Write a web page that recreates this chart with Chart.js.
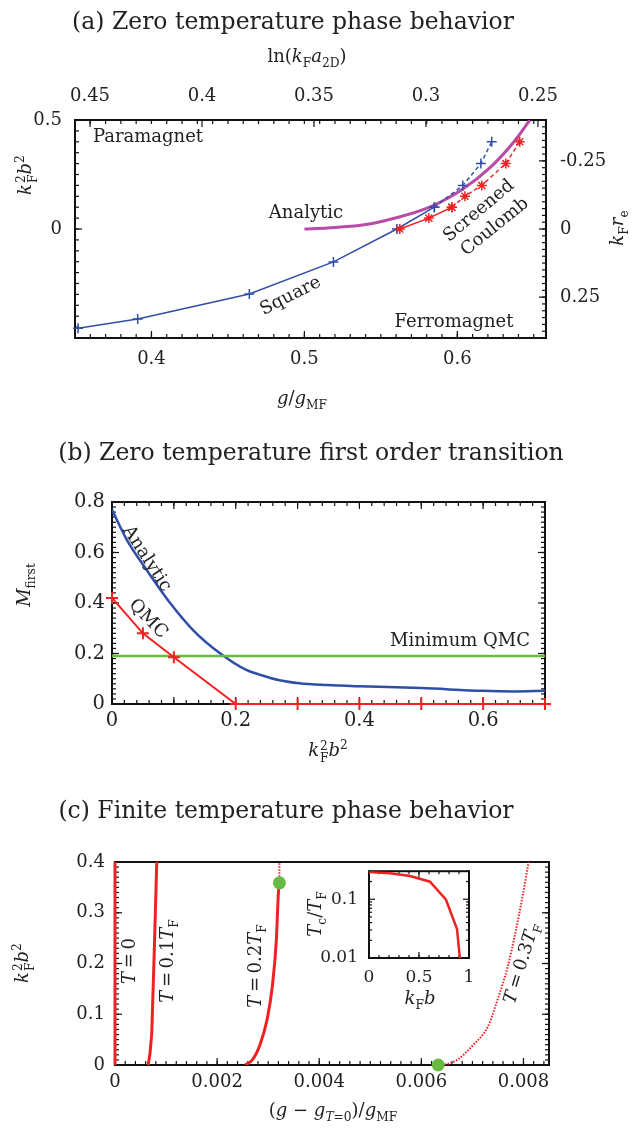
<!DOCTYPE html>
<html lang="en">
<head>
<meta charset="UTF-8">
<title>Phase behavior</title>
<script src="https://cdn.jsdelivr.net/npm/chart.js"></script>
<style>
  body { margin: 0; background: #fff; }
  #page { position: relative; width: 638px; height: 1129px; overflow: hidden; }
  canvas { position: absolute; }
  .t { position: absolute; font-family: 'DejaVu Serif', serif; color: #222; white-space: nowrap;
       transform: translate(-50%, -50%); font-size: 18px; line-height: 1; }
  .title { font-size: 23.5px; }
  sub, sup { font-size: 0.68em; line-height: 0; }
  .st { display: inline-flex; flex-direction: column; font-size: 0.68em; line-height: 1; vertical-align: 0.5em; margin-left: 1px; }
</style>
</head>
<body>
<div id="page">
  <canvas id="chartA" width="638" height="420" style="left:0;top:0"></canvas>
  <canvas id="chartB" width="638" height="360" style="left:0;top:420px"></canvas>
  <canvas id="chartC" width="638" height="349" style="left:0;top:780px"></canvas>
  <canvas id="inset" width="200" height="160" style="left:300px;top:850px"></canvas>

  <!-- (a) -->
  <div class="t title" style="left:293px;top:22px">(a) Zero temperature phase behavior</div>
  <div class="t" style="left:307px;top:56px">ln(<i>k</i><sub>F</sub><i>a</i><sub>2D</sub>)</div>
  <div class="t" style="left:27px;top:175px;transform:translate(-50%,-50%) rotate(-90deg)"><i>k</i><span class="st"><span>2</span><span>F</span></span><i>b</i><sup>2</sup></div>
  <div class="t" style="left:302px;top:398px"><i>g</i>/<i>g</i><sub>MF</sub></div>
  <div class="t" style="left:617px;top:228px;transform:translate(-50%,-50%) rotate(-90deg)"><i>k</i><sub>F</sub><i>r</i><sub>e</sub></div>
  <div class="t" style="left:148px;top:136px">Paramagnet</div>
  <div class="t" style="left:306px;top:212px">Analytic</div>
  <div class="t" style="left:290px;top:295px;transform:translate(-50%,-50%) rotate(-27deg)">Square</div>
  <div class="t" style="left:478px;top:210px;transform:translate(-50%,-50%) rotate(-40deg)">Screened</div>
  <div class="t" style="left:494px;top:226px;transform:translate(-50%,-50%) rotate(-39deg)">Coulomb</div>
  <div class="t" style="left:454px;top:321px">Ferromagnet</div>

  <!-- (b) -->
  <div class="t title" style="left:311px;top:453px">(b) Zero temperature first order transition</div>
  <div class="t" style="left:24px;top:585px;transform:translate(-50%,-50%) rotate(-90deg)"><i>M</i><sub>first</sub></div>
  <div class="t" style="left:328px;top:752px"><i>k</i><span class="st"><span>2</span><span>F</span></span><i>b</i><sup>2</sup></div>
  <div class="t" style="left:148px;top:558px;transform:translate(-50%,-50%) rotate(57deg)">Analytic</div>
  <div class="t" style="left:149px;top:618px;transform:translate(-50%,-50%) rotate(46deg)">QMC</div>
  <div class="t" style="left:460px;top:640px">Minimum QMC</div>

  <!-- (c) -->
  <div class="t title" style="left:286px;top:811px">(c) Finite temperature phase behavior</div>
  <div class="t" style="left:24px;top:963px;transform:translate(-50%,-50%) rotate(-90deg)"><i>k</i><span class="st"><span>2</span><span>F</span></span><i>b</i><sup>2</sup></div>
  <div class="t" style="left:333px;top:1110px">(<i>g</i> &#8722; <i>g</i><sub><i>T</i>=0</sub>)/<i>g</i><sub>MF</sub></div>
  <div class="t" style="left:129px;top:961px;transform:translate(-50%,-50%) rotate(-90deg)"><i>T</i>&#8201;=&#8201;0</div>
  <div class="t" style="left:167px;top:961px;transform:translate(-50%,-50%) rotate(-90deg)"><i>T</i>&#8201;=&#8201;0.1<i>T</i><sub>F</sub></div>
  <div class="t" style="left:255px;top:966px;transform:translate(-50%,-50%) rotate(-90deg)"><i>T</i>&#8201;=&#8201;0.2<i>T</i><sub>F</sub></div>
  <div class="t" style="left:521px;top:963px;transform:translate(-50%,-50%) rotate(-73deg)"><i>T</i>&#8201;=&#8201;0.3<i>T</i><sub>F</sub></div>
  <div class="t" style="left:315px;top:914px;transform:translate(-50%,-50%) rotate(-90deg)"><i>T</i><sub>c</sub>/<i>T</i><sub>F</sub></div>
  <div class="t" style="left:420px;top:998px"><i>k</i><sub>F</sub><i>b</i></div>
</div>

<script>
  // (a) zero temperature phase boundary: g/g_MF vs kF^2 b^2
  const squareG = [0.352, 0.391, 0.464, 0.519, 0.5605, 0.585];
  const squareB2 = [-0.455, -0.413, -0.298, -0.151, 0, 0.1];
  const squareDashG = [0.585, 0.6036, 0.6154, 0.6225];
  const squareDashB2 = [0.1, 0.2, 0.3, 0.4];
  const coulombG = [0.5624, 0.5814, 0.5964];
  const coulombB2 = [0, 0.05, 0.1];
  const coulombDashG = [0.5964, 0.605, 0.616, 0.6317, 0.6408];
  const coulombDashB2 = [0.1, 0.15, 0.2, 0.3, 0.4];
  const analyticG = [0.5, 0.515, 0.538, 0.557, 0.582, 0.6036, 0.6212, 0.6376, 0.6474];
  const analyticB2 = [0, 0.005, 0.018, 0.046, 0.1, 0.183, 0.28, 0.405, 0.5];
  const gTicks = [0.4, 0.5, 0.6];
  const lnTicks = [0.45, 0.4, 0.35, 0.3, 0.25];
  const b2TicksA = [0, 0.5];
  const reTicks = [-0.25, 0, 0.25];

  // (b) magnetisation at the first order transition
  const b2Analytic = [0, 0.024, 0.056, 0.094, 0.131, 0.174, 0.217, 0.239, 0.271, 0.303, 0.347, 0.4, 0.5, 0.6, 0.65, 0.7];
  const mAnalytic = [0.77, 0.65, 0.531, 0.40, 0.293, 0.202, 0.135, 0.116, 0.094, 0.082, 0.075, 0.07, 0.063, 0.052, 0.05, 0.052];
  const b2Qmc = [0, 0.05, 0.1, 0.2, 0.3, 0.4, 0.5, 0.6, 0.7];
  const mQmc = [0.42, 0.28, 0.185, 0, 0, 0, 0, 0, 0];
  const b2MinQmc = [0, 0.7];
  const mMinQmc = [0.19, 0.19];
  const b2TicksB = [0, 0.2, 0.4, 0.6];
  const mTicks = [0, 0.2, 0.4, 0.6, 0.8];

  // (c) finite temperature boundaries
  const dgT0 = [0, 0];
  const b2T0 = [0, 0.4];
  const dgT01 = [0.00065, 0.000686, 0.00072, 0.00074, 0.00077, 0.000818];
  const b2T01 = [0, 0.023, 0.062, 0.128, 0.227, 0.4];
  const dgT02 = [0.00255, 0.00269, 0.00284, 0.00298, 0.00308, 0.00316, 0.0032, 0.00322];
  const b2T02 = [0, 0.01, 0.04, 0.09, 0.154, 0.246, 0.339, 0.359];
  const dgT02Dot = [0.00322, 0.00322];
  const b2T02Dot = [0.359, 0.4];
  const dgT03Dot = [0.0064, 0.00647, 0.0067, 0.00702, 0.0073, 0.00749, 0.00769, 0.00784, 0.00798, 0.0081];
  const b2T03Dot = [0, 0.001, 0.01, 0.04, 0.075, 0.128, 0.193, 0.26, 0.331, 0.4];
  const dgCrit = [0.00322, 0.00633];
  const b2Crit = [0.359, 0];
  const dgTicks = [0, 0.002, 0.004, 0.006, 0.008];
  const b2TicksC = [0, 0.1, 0.2, 0.3, 0.4];

  // inset: Tc/TF vs kF b
  const kbInset = [0, 0.21, 0.41, 0.61, 0.77, 0.88, 0.91];
  const tcInset = [0.29, 0.278, 0.249, 0.199, 0.098, 0.031, 0.0095];
  const kbTicks = [0, 0.5, 1];
  const tcTicks = [0.01, 0.1];

  const BLUE = '#2f4ea6', RED = '#ee2222', MAGENTA = '#b64ca6', GREEN = '#68bb42', INK = '#222';

  Chart.defaults.font.family = "'DejaVu Serif', serif";
  Chart.defaults.color = INK;

  function pts(xs, ys) { return xs.map((x, i) => ({ x, y: ys[i] })); }
  function range(a, b, step) {
    const out = [];
    for (let v = a; v <= b + step * 1e-6; v += step) out.push(+v.toFixed(7));
    return out;
  }

  // box frame with inward ticks, drawn under the data
  const frameTicks = {
    id: 'frameTicks',
    beforeDatasetsDraw(chart, args, o) {
      const { ctx, chartArea: a } = chart;
      ctx.save();
      if (o.fill) { ctx.fillStyle = o.fill; ctx.fillRect(a.left, a.top, a.width, a.height); }
      ctx.strokeStyle = '#111';
      ctx.lineWidth = 1.2;
      for (const t of (o.marks || [])) {
        const s = chart.scales[t.scale];
        for (const v of t.values) {
          const p = s.getPixelForValue(v);
          ctx.beginPath();
          if (t.edge === 'bottom') { ctx.moveTo(p, a.bottom); ctx.lineTo(p, a.bottom - t.len); }
          else if (t.edge === 'top') { ctx.moveTo(p, a.top); ctx.lineTo(p, a.top + t.len); }
          else if (t.edge === 'left') { ctx.moveTo(a.left, p); ctx.lineTo(a.left + t.len, p); }
          else { ctx.moveTo(a.right, p); ctx.lineTo(a.right - t.len, p); }
          ctx.stroke();
        }
      }
      ctx.lineWidth = 2;
      ctx.strokeRect(a.left, a.top, a.width, a.height);
      ctx.restore();
    }
  };
  Chart.register(frameTicks);

  function axis(o) {
    return {
      type: o.type || 'linear', position: o.position, min: o.min, max: o.max, reverse: !!o.reverse,
      grid: { display: false, drawTicks: false }, border: { display: false },
      ticks: { padding: o.pad, font: { size: o.font }, color: INK, autoSkip: false, maxRotation: 0,
               callback: v => String(v) },
      afterBuildTicks: s => { s.ticks = o.ticks.map(value => ({ value })); },
      afterFit: s => { if (o.height != null) s.height = o.height; if (o.width != null) s.width = o.width; }
    };
  }

  function base(padding, marks, scales, fill) {
    return {
      responsive: false, animation: false, devicePixelRatio: 1,
      layout: { padding },
      plugins: { legend: { display: false }, tooltip: { enabled: false }, frameTicks: { marks, fill } },
      scales
    };
  }

  function line(xs, ys, color, width, extra) {
    return Object.assign({ data: pts(xs, ys), showLine: true, borderColor: color, backgroundColor: color,
                           borderWidth: width, pointRadius: 0 }, extra || {});
  }

  const cross = { pointStyle: 'cross', pointRadius: 5, pointBorderWidth: 1.5, clip: false };
  const star = { pointStyle: 'star', pointRadius: 5, pointBorderWidth: 1.5, clip: false };

  // ---- (a)
  new Chart(document.getElementById('chartA'), {
    type: 'scatter',
    data: { datasets: [
      line(coulombG, coulombB2, RED, 1.5, star),
      line(coulombDashG, coulombDashB2, RED, 1.5, Object.assign({ borderDash: [4, 3] }, star)),
      line(squareG, squareB2, BLUE, 1.5, cross),
      line(squareDashG, squareDashB2, BLUE, 1.5, Object.assign({ borderDash: [4, 3] }, cross)),
      line(analyticG, analyticB2, MAGENTA, 3, { cubicInterpolationMode: 'monotone' })
    ] },
    options: base({ left: 0, right: 0, top: 0, bottom: 0 }, [
      { scale: 'x', edge: 'bottom', values: range(0.35, 0.65, 0.01), len: 4 },
      { scale: 'x', edge: 'bottom', values: gTicks, len: 7 },
      { scale: 'x', edge: 'top', values: range(0.35, 0.65, 0.01), len: 4 },
      { scale: 'x2', edge: 'top', values: lnTicks, len: 7 },
      { scale: 'y', edge: 'left', values: range(-0.5, 0.5, 0.05), len: 4 },
      { scale: 'y', edge: 'left', values: [-0.5, 0, 0.5], len: 7 },
      { scale: 'y2', edge: 'right', values: range(-0.4, 0.4, 0.025), len: 4 },
      { scale: 'y2', edge: 'right', values: reTicks, len: 7 }
    ], {
      x: axis({ position: 'bottom', min: 0.35, max: 0.658, ticks: gTicks, pad: 11, font: 18, height: 82 }),
      x2: axis({ position: 'top', min: 0.2464, max: 0.4567, reverse: true, ticks: lnTicks, pad: 13, font: 18, height: 120 }),
      y: axis({ position: 'left', min: -0.5, max: 0.5, ticks: b2TicksA, pad: 13, font: 18, width: 75 }),
      y2: axis({ position: 'right', min: -0.4, max: 0.4, reverse: true, ticks: reTicks, pad: 14, font: 18, width: 92 })
    })
  });

  // ---- (b)
  new Chart(document.getElementById('chartB'), {
    type: 'scatter',
    data: { datasets: [
      line(b2Qmc, mQmc, RED, 2, { pointStyle: 'cross', pointRadius: 6, pointBorderWidth: 2, clip: false }),
      line(b2MinQmc, mMinQmc, GREEN, 2.5),
      line(b2Analytic, mAnalytic, BLUE, 2.5, { cubicInterpolationMode: 'monotone' })
    ] },
    options: base({ left: 0, right: 93, top: 82, bottom: 0 }, [
      { scale: 'x', edge: 'bottom', values: range(0, 0.7, 0.02), len: 4 },
      { scale: 'x', edge: 'bottom', values: range(0, 0.7, 0.1), len: 7 },
      { scale: 'x', edge: 'top', values: range(0, 0.7, 0.02), len: 4 },
      { scale: 'x', edge: 'top', values: range(0, 0.7, 0.1), len: 7 },
      { scale: 'y', edge: 'left', values: range(0, 0.8, 0.02), len: 4 },
      { scale: 'y', edge: 'left', values: mTicks, len: 7 },
      { scale: 'y', edge: 'right', values: range(0, 0.8, 0.02), len: 4 },
      { scale: 'y', edge: 'right', values: mTicks, len: 7 }
    ], {
      x: axis({ position: 'bottom', min: 0, max: 0.7, ticks: b2TicksB, pad: 5, font: 19.5, height: 76 }),
      y: axis({ position: 'left', min: 0, max: 0.8, ticks: mTicks, pad: 7, font: 19.5, width: 112 })
    })
  });

  // ---- (c)
  new Chart(document.getElementById('chartC'), {
    type: 'scatter',
    data: { datasets: [
      { data: pts(dgCrit, b2Crit), pointRadius: 6.5, backgroundColor: GREEN, borderWidth: 0, pointBorderWidth: 0, clip: false },
      line(dgT0, b2T0, RED, 3, { clip: false }),
      line(dgT01, b2T01, RED, 3),
      line(dgT02, b2T02, RED, 3, { cubicInterpolationMode: 'monotone' }),
      line(dgT02Dot, b2T02Dot, RED, 2, { borderDash: [1.5, 1.5] }),
      line(dgT03Dot, b2T03Dot, RED, 2, { borderDash: [1.5, 1.5], cubicInterpolationMode: 'monotone' })
    ] },
    options: base({ left: 0, right: 89, top: 82, bottom: 0 }, [
      { scale: 'x', edge: 'bottom', values: range(0, 0.0084, 0.0002), len: 4 },
      { scale: 'x', edge: 'bottom', values: dgTicks, len: 7 },
      { scale: 'y', edge: 'left', values: range(0, 0.4, 0.01), len: 4 },
      { scale: 'y', edge: 'left', values: b2TicksC, len: 7 },
      { scale: 'y', edge: 'right', values: range(0, 0.4, 0.01), len: 4 },
      { scale: 'y', edge: 'right', values: b2TicksC, len: 7 }
    ], {
      x: axis({ position: 'bottom', min: 0, max: 0.0085, ticks: dgTicks, pad: 7, font: 18, height: 64 }),
      y: axis({ position: 'left', min: 0, max: 0.4, ticks: b2TicksC, pad: 10, font: 18, width: 115 })
    })
  });

  // ---- inset
  const logMinor = [0.02, 0.03, 0.04, 0.05, 0.06, 0.07, 0.08, 0.09, 0.2, 0.3];
  new Chart(document.getElementById('inset'), {
    type: 'scatter',
    data: { datasets: [ line(kbInset, tcInset, RED, 2.5) ] },
    options: base({ left: 0, right: 31, top: 17, bottom: 0 }, [
      { scale: 'x', edge: 'bottom', values: range(0, 1, 0.1), len: 3 },
      { scale: 'x', edge: 'bottom', values: kbTicks, len: 6 },
      { scale: 'x', edge: 'top', values: range(0, 1, 0.1), len: 3 },
      { scale: 'x', edge: 'top', values: kbTicks, len: 6 },
      { scale: 'y', edge: 'left', values: logMinor, len: 3 },
      { scale: 'y', edge: 'left', values: tcTicks, len: 6 },
      { scale: 'y', edge: 'right', values: logMinor, len: 3 },
      { scale: 'y', edge: 'right', values: tcTicks, len: 6 }
    ], {
      x: axis({ position: 'bottom', min: 0, max: 1, ticks: kbTicks, pad: 9, font: 17, height: 52 }),
      y: axis({ type: 'logarithmic', position: 'left', min: 0.01, max: 0.3, ticks: tcTicks, pad: 11, font: 17, width: 69 })
    }, '#fff')
  });
</script>
</body>
</html>
